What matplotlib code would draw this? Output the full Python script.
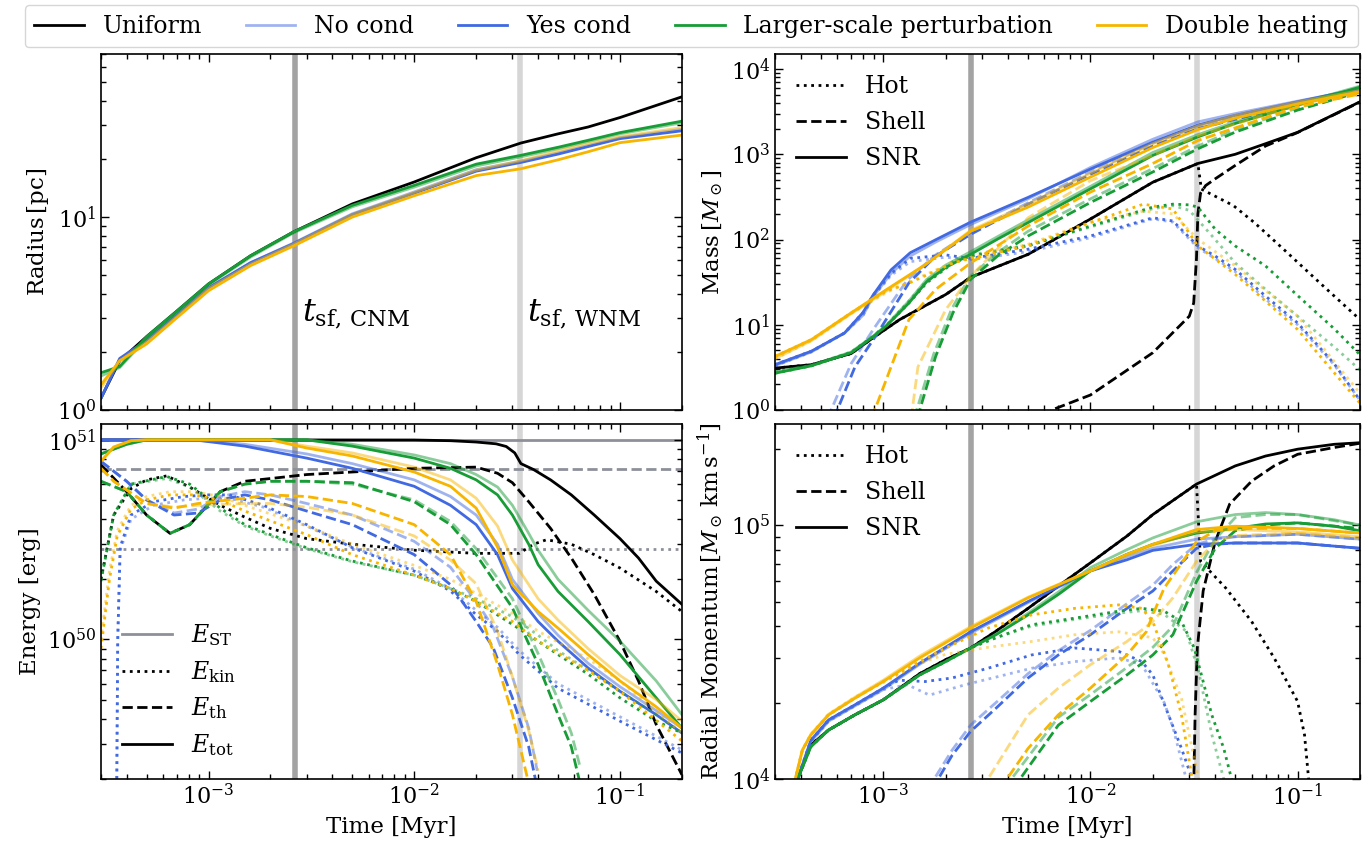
import numpy as np
import matplotlib
matplotlib.use('Agg')
import matplotlib.pyplot as plt
from matplotlib.lines import Line2D
from matplotlib.ticker import NullFormatter

plt.rcParams['font.family'] = 'DejaVu Serif'
plt.rcParams['mathtext.fontset'] = 'dejavuserif'
plt.rcParams['xtick.direction'] = 'in'
plt.rcParams['ytick.direction'] = 'in'
plt.rcParams['xtick.top'] = True
plt.rcParams['ytick.right'] = True
plt.rcParams['xtick.major.size'] = 6
plt.rcParams['ytick.major.size'] = 6
plt.rcParams['xtick.minor.size'] = 3.5
plt.rcParams['ytick.minor.size'] = 3.5
plt.rcParams['axes.linewidth'] = 1.2

# shell formation times [Myr]
t_sf_cnm = 2.64e-3
t_sf_wnm = 3.27e-2

# Sedov-Taylor energies [1e51 erg]
e_st_tot = 1.0
e_st_th = 0.717
e_st_kin = 0.283

model_labels = ['Uniform', 'No cond', 'Yes cond', 'Larger-scale perturbation', 'Double heating']

# ---------------- radius [pc]
t_rad = [3e-4, 3.7e-4, 5e-4, 7e-4, 1e-3, 1.6e-3, 2.6e-3, 5e-3, 1e-2, 2e-2, 3.3e-2, 5e-2, 7e-2, 0.1, 0.2]
rad_uni = [1.15, 1.8, 2.4, 3.25, 4.5, 6.3, 8.4, 11.7, 15.2, 20.3, 24.2, 27.0, 29.3, 32.8, 42.0]
rad_ncond = [1.15, 1.82, 2.3, 3.1, 4.3, 5.8, 7.35, 10.4, 13.5, 17.6, 19.5, 21.5, 23.5, 25.8, 28.5]
rad_ycond = [1.15, 1.85, 2.3, 3.1, 4.3, 5.8, 7.3, 10.3, 13.3, 17.3, 19.2, 21.2, 23.2, 25.5, 28.0]
rad_lsp_n = [1.5, 1.66, 2.35, 3.2, 4.45, 6.2, 8.3, 11.3, 14.3, 18.4, 20.5, 22.6, 24.6, 27.0, 30.8]
rad_lsp_y = [1.56, 1.68, 2.4, 3.25, 4.5, 6.3, 8.4, 11.5, 14.6, 18.8, 20.9, 23.0, 25.0, 27.4, 31.4]
rad_dh_n = [1.3, 1.8, 2.25, 3.05, 4.25, 5.7, 7.25, 10.3, 13.4, 17.5, 19.6, 22.0, 24.0, 26.1, 29.1]
rad_dh_y = [1.35, 1.8, 2.2, 3.0, 4.15, 5.6, 7.1, 10.0, 12.9, 16.4, 17.8, 19.8, 21.8, 24.3, 26.6]

# ---------------- mass [Msun]
t_msnr_uni = [3e-4, 4.5e-4, 7e-4, 8.9e-4, 1.2e-3, 2e-3, 2.64e-3, 5e-3, 1e-2, 2e-2, 3.3e-2, 5e-2, 7e-2, 0.1, 0.2]
msnr_uni = [3.1, 3.4, 4.6, 7.0, 11.5, 22.6, 36, 67, 174, 470, 780, 1000, 1330, 1810, 4130]
t_mhot_uni = [3e-4, 4.5e-4, 7e-4, 8.9e-4, 1.2e-3, 2e-3, 2.64e-3, 5e-3, 1e-2, 2e-2, 3.3e-2, 3.43e-2, 4.9e-2, 6.2e-2, 8.6e-2, 0.128, 0.2]
mhot_uni = [3.1, 3.4, 4.6, 7.0, 11.5, 22.6, 36, 67, 174, 470, 780, 390, 250, 157, 76, 31, 11.5]
t_msh_uni = [6e-3, 6.5e-3, 1e-2, 2e-2, 3e-2, 3.15e-2, 3.25e-2, 3.3e-2, 3.4e-2, 3.6e-2, 4e-2, 5e-2, 7e-2, 0.1, 0.2]
msh_uni = [0.8, 1.0, 1.5, 4.7, 12.6, 18, 60, 200, 350, 430, 515, 740, 1250, 1800, 4100]

t_msnr_cond = [3e-4, 4.5e-4, 6.5e-4, 8e-4, 8.9e-4, 1.09e-3, 1.35e-3, 1.8e-3, 2.64e-3, 5e-3, 1e-2, 2e-2, 3.3e-2, 5e-2, 0.1, 0.2]
msnr_ycond = [3.4, 4.9, 8, 14, 22, 44, 70, 100, 160, 312, 670, 1390, 2200, 2860, 4130, 5900]
msnr_ncond = [3.3, 4.8, 8, 13, 21, 40, 64, 94, 150, 300, 700, 1500, 2400, 3000, 4200, 5800]
t_mhot_cond = [3e-4, 4.5e-4, 6.5e-4, 8e-4, 8.9e-4, 1.09e-3, 1.35e-3, 2e-3, 2.64e-3, 5e-3, 1e-2, 2e-2, 2.5e-2, 3.3e-2, 4e-2, 5e-2, 7e-2, 0.1, 0.15, 0.2]
mhot_ycond = [3.4, 4.9, 8, 14, 22, 40, 60, 66, 60, 77, 110, 180, 165, 84, 64, 44.6, 21.7, 10.5, 3.5, 1.3]
mhot_ncond = [3.3, 4.8, 8, 13, 21, 38, 55, 62, 58, 72, 105, 175, 160, 80, 60, 42, 20, 10, 3.4, 1.3]
t_msh_ycond = [5.8e-4, 6e-4, 7.3e-4, 9.4e-4, 1.33e-3, 1.79e-3, 2.64e-3, 5e-3, 1e-2, 2e-2, 3.3e-2, 0.1, 0.2]
msh_ycond = [0.8, 1.0, 3.2, 8, 31, 64, 115, 260, 580, 1250, 2000, 3900, 5650]
t_msh_ncond = [5.4e-4, 5.6e-4, 7e-4, 9e-4, 1.3e-3, 1.79e-3, 2.64e-3, 5e-3, 1e-2, 2e-2, 3.3e-2, 0.1, 0.2]
msh_ncond = [0.8, 1.0, 3.5, 9, 33, 66, 120, 270, 620, 1350, 2100, 4000, 5700]

t_msnr_dh = [3e-4, 4.5e-4, 7e-4, 1.04e-3, 1.62e-3, 2.64e-3, 5e-3, 1e-2, 2e-2, 3.3e-2, 5e-2, 0.1, 0.2]
msnr_dh_y = [4.25, 6.7, 13.8, 26, 52, 125, 240, 540, 1200, 1950, 2650, 3900, 5400]
msnr_dh_n = [4.0, 6.5, 13.5, 25, 52, 128, 260, 600, 1330, 2150, 2850, 4100, 5600]
t_mhot_dh = [3e-4, 4.5e-4, 7e-4, 1.04e-3, 1.3e-3, 2.17e-3, 2.64e-3, 5e-3, 1e-2, 1.8e-2, 2.5e-2, 3.3e-2, 5e-2, 0.1, 0.2]
mhot_dh_y = [4.25, 6.7, 13.8, 25, 30, 53, 60, 84, 158, 260, 228, 84, 39, 8.8, 1.2]
mhot_dh_n = [4.0, 6.5, 13.5, 24, 31, 54, 61, 88, 160, 215, 200, 101, 49, 12.6, 1.57]
t_msh_dh_y = [8.8e-4, 9.1e-4, 1.09e-3, 1.33e-3, 1.79e-3, 2.64e-3, 5e-3, 1e-2, 2e-2, 3.3e-2, 0.1, 0.2]
msh_dh_y = [0.8, 1.0, 3.2, 11.5, 26, 53, 144, 360, 780, 1450, 3600, 5100]
t_msh_dh_n = [1.35e-3, 1.38e-3, 1.47e-3, 2e-3, 2.64e-3, 5e-3, 1e-2, 2e-2, 3.3e-2, 0.1, 0.2]
msh_dh_n = [0.8, 1.0, 3.2, 15, 37, 180, 490, 970, 1650, 3800, 5400]

t_msnr_lsp = [3e-4, 4.5e-4, 7e-4, 8.9e-4, 1.04e-3, 1.33e-3, 1.62e-3, 2e-3, 2.64e-3, 3.56e-3, 5e-3, 1e-2, 2e-2, 3.3e-2, 5e-2, 0.1, 0.2]
msnr_lsp_y = [2.7, 3.3, 4.7, 7.2, 9.8, 18, 32, 47, 67, 101, 158, 393, 970, 1600, 2300, 3760, 6130]
msnr_lsp_n = [2.8, 3.35, 4.8, 7.3, 10, 19, 34, 50, 72, 108, 170, 420, 1050, 1700, 2400, 3900, 6300]
t_mhot_lsp = [3e-4, 4.5e-4, 7e-4, 8.9e-4, 1.04e-3, 1.33e-3, 1.62e-3, 2.17e-3, 2.64e-3, 5e-3, 1e-2, 2e-2, 2.5e-2, 3e-2, 3.3e-2, 4e-2, 5e-2, 7e-2, 0.1, 0.15, 0.2]
mhot_lsp_y = [2.7, 3.3, 4.7, 7.2, 9.8, 18, 31, 53, 64, 84, 144, 240, 260, 255, 240, 132, 84, 49, 22, 9, 4.45]
mhot_lsp_n = [2.8, 3.35, 4.8, 7.3, 10, 19, 33, 55, 66, 86, 140, 230, 250, 220, 170, 100, 53, 26, 12.6, 5.5, 2.96]
t_msh_lsp_y = [1.47e-3, 1.5e-3, 1.79e-3, 2.17e-3, 2.64e-3, 3.56e-3, 5e-3, 1e-2, 2e-2, 3.3e-2, 5e-2, 0.1, 0.2]
msh_lsp_y = [0.8, 1.0, 4.25, 13.8, 34, 64, 110, 272, 620, 1160, 1820, 3300, 5400]
t_msh_lsp_n = [1.42e-3, 1.45e-3, 1.75e-3, 2.13e-3, 2.6e-3, 3.56e-3, 5e-3, 1e-2, 2e-2, 3.3e-2, 5e-2, 0.1, 0.2]
msh_lsp_n = [0.8, 1.0, 4.5, 15, 36, 70, 125, 300, 680, 1250, 1950, 3500, 5500]

# ---------------- energy [1e51 erg]
t_etot_uni = [3e-4, 1e-2, 1.5e-2, 2e-2, 2.5e-2, 2.8e-2, 3.08e-2, 3.3e-2, 3.8e-2, 4.6e-2, 5.8e-2, 7.5e-2, 0.1, 0.123, 0.15, 0.2]
etot_uni = [1.0, 0.998, 0.99, 0.975, 0.955, 0.926, 0.86, 0.76, 0.71, 0.63, 0.53, 0.42, 0.32, 0.256, 0.196, 0.15]
t_eth_uni = [3e-4, 4e-4, 5e-4, 6.5e-4, 8.1e-4, 1.14e-3, 1.5e-3, 2e-3, 3e-3, 5e-3, 1e-2, 2e-2, 2.54e-2, 3e-2, 3.6e-2, 4.6e-2, 5.8e-2, 7.5e-2, 0.1, 0.123, 0.15, 0.2]
eth_uni = [0.75, 0.55, 0.42, 0.34, 0.376, 0.55, 0.62, 0.64, 0.67, 0.69, 0.72, 0.73, 0.68, 0.61, 0.49, 0.36, 0.256, 0.168, 0.098, 0.062, 0.0375, 0.021]
t_ekin_uni = [3e-4, 3.46e-4, 4.2e-4, 5e-4, 6.27e-4, 8.1e-4, 1.14e-3, 1.5e-3, 2e-3, 3e-3, 5e-3, 1e-2, 2e-2, 3.24e-2, 3.8e-2, 4.4e-2, 5.8e-2, 7.5e-2, 0.1, 0.15, 0.2]
ekin_uni = [0.2, 0.42, 0.57, 0.63, 0.66, 0.58, 0.47, 0.41, 0.36, 0.32, 0.3, 0.28, 0.27, 0.27, 0.3, 0.316, 0.3, 0.266, 0.228, 0.174, 0.138]

t_etot_cond = [3e-4, 8.5e-4, 1.5e-3, 3e-3, 5e-3, 1e-2, 1.5e-2, 2e-2, 2.54e-2, 3e-2, 4e-2, 5e-2, 7e-2, 0.1, 0.15, 0.2]
etot_ycond = [1.0, 1.0, 0.93, 0.81, 0.72, 0.585, 0.47, 0.376, 0.266, 0.18, 0.123, 0.098, 0.072, 0.055, 0.042, 0.034]
etot_ncond = [1.0, 1.0, 0.95, 0.85, 0.76, 0.63, 0.52, 0.42, 0.3, 0.2, 0.135, 0.105, 0.076, 0.058, 0.044, 0.036]
t_eth_cond = [3e-4, 4e-4, 5e-4, 6.8e-4, 8.9e-4, 1.14e-3, 1.5e-3, 2e-3, 3e-3, 5e-3, 1e-2, 1.5e-2, 2e-2, 2.42e-2, 3e-2, 3.6e-2, 3.96e-2]
eth_ycond = [0.78, 0.62, 0.5, 0.42, 0.43, 0.5, 0.53, 0.5, 0.44, 0.376, 0.266, 0.188, 0.123, 0.091, 0.051, 0.029, 0.018]
eth_ncond = [0.78, 0.62, 0.5, 0.43, 0.45, 0.52, 0.55, 0.53, 0.48, 0.42, 0.31, 0.23, 0.155, 0.115, 0.065, 0.036, 0.022]
t_ekin_cond = [3.55e-4, 3.62e-4, 3.72e-4, 4.2e-4, 5.4e-4, 7.6e-4, 1e-3, 1.26e-3, 1.85e-3, 3e-3, 5e-3, 1e-2, 1.5e-2, 2e-2, 2.54e-2, 3.24e-2, 5e-2, 0.1, 0.2]
ekin_ycond = [0.005, 0.1, 0.29, 0.42, 0.49, 0.52, 0.53, 0.53, 0.47, 0.376, 0.288, 0.22, 0.175, 0.133, 0.11, 0.084, 0.057, 0.039, 0.027]
ekin_ncond = [0.005, 0.1, 0.28, 0.4, 0.47, 0.5, 0.51, 0.51, 0.46, 0.37, 0.29, 0.225, 0.18, 0.14, 0.115, 0.088, 0.06, 0.041, 0.028]

t_etot_lsp = [3e-4, 4e-4, 5e-4, 3e-3, 5e-3, 1e-2, 1.5e-2, 2e-2, 2.54e-2, 3e-2, 3.6e-2, 4e-2, 5e-2, 7e-2, 0.1, 0.15, 0.2]
etot_lsp_y = [0.85, 0.95, 1.0, 1.0, 0.93, 0.81, 0.72, 0.63, 0.53, 0.42, 0.3, 0.237, 0.174, 0.123, 0.084, 0.051, 0.036]
etot_lsp_n = [0.85, 0.95, 1.0, 1.0, 0.95, 0.84, 0.76, 0.67, 0.58, 0.47, 0.34, 0.28, 0.2, 0.14, 0.098, 0.062, 0.042]
t_eth_lsp = [3e-4, 4e-4, 5e-4, 6.5e-4, 8.1e-4, 1.14e-3, 1.5e-3, 2e-3, 3e-3, 5e-3, 1e-2, 1.5e-2, 2e-2, 3e-2, 4e-2, 5e-2, 5.8e-2, 6.4e-2]
eth_lsp_y = [0.62, 0.55, 0.42, 0.34, 0.376, 0.55, 0.6, 0.62, 0.62, 0.61, 0.49, 0.376, 0.266, 0.144, 0.075, 0.042, 0.029, 0.019]
eth_lsp_n = [0.62, 0.55, 0.42, 0.34, 0.376, 0.55, 0.6, 0.62, 0.62, 0.6, 0.5, 0.39, 0.285, 0.16, 0.085, 0.05, 0.034, 0.023]
t_ekin_lsp = [3e-4, 3.46e-4, 4.2e-4, 6.27e-4, 8.1e-4, 1.14e-3, 1.5e-3, 2e-3, 3e-3, 5e-3, 1e-2, 1.5e-2, 2e-2, 3e-2, 4e-2, 5e-2, 7e-2, 0.1, 0.15, 0.2]
ekin_lsp_y = [0.196, 0.42, 0.6, 0.655, 0.6, 0.455, 0.376, 0.335, 0.288, 0.247, 0.21, 0.18, 0.155, 0.119, 0.098, 0.084, 0.067, 0.051, 0.039, 0.034]
ekin_lsp_n = [0.2, 0.42, 0.6, 0.64, 0.58, 0.44, 0.37, 0.33, 0.285, 0.245, 0.21, 0.18, 0.16, 0.13, 0.105, 0.088, 0.07, 0.055, 0.042, 0.034]

t_etot_dh = [3e-4, 3.46e-4, 4.2e-4, 5e-4, 2e-3, 3e-3, 5e-3, 1e-2, 1.5e-2, 2e-2, 2.54e-2, 3e-2, 4e-2, 5e-2, 7e-2, 0.1, 0.15, 0.2]
etot_dh_y = [0.78, 0.92, 0.99, 1.0, 1.0, 0.91, 0.83, 0.69, 0.585, 0.455, 0.29, 0.188, 0.138, 0.114, 0.084, 0.062, 0.046, 0.036]
etot_dh_n = [0.78, 0.92, 0.99, 1.0, 1.0, 0.93, 0.86, 0.73, 0.63, 0.51, 0.37, 0.25, 0.16, 0.125, 0.09, 0.066, 0.05, 0.039]
t_eth_dh_y = [3e-4, 3.46e-4, 5e-4, 6.8e-4, 8.9e-4, 1.5e-3, 2e-3, 3e-3, 5e-3, 1e-2, 1.5e-2, 2e-2, 2.54e-2, 3e-2, 3.6e-2]
eth_dh_y = [0.72, 0.62, 0.48, 0.455, 0.48, 0.51, 0.53, 0.52, 0.48, 0.376, 0.266, 0.155, 0.075, 0.042, 0.019]
t_eth_dh_n = [3e-4, 3.46e-4, 5e-4, 6.8e-4, 8.9e-4, 1.5e-3, 2e-3, 3e-3, 5e-3, 1e-2, 1.5e-2, 2e-2, 2.54e-2, 3e-2, 3.6e-2, 4e-2]
eth_dh_n = [0.72, 0.62, 0.48, 0.46, 0.47, 0.48, 0.48, 0.46, 0.42, 0.33, 0.25, 0.19, 0.11, 0.065, 0.035, 0.022]
t_ekin_dh = [3e-4, 3.3e-4, 3.6e-4, 4.2e-4, 5e-4, 6.5e-4, 8.5e-4, 1.14e-3, 1.5e-3, 3e-3, 5e-3, 1e-2, 1.5e-2, 2e-2, 3e-2, 4e-2, 7e-2, 0.1, 0.2]
ekin_dh_y = [0.09, 0.2, 0.33, 0.45, 0.5, 0.53, 0.53, 0.5, 0.44, 0.335, 0.266, 0.21, 0.18, 0.155, 0.123, 0.098, 0.07, 0.055, 0.031]
ekin_dh_n = [0.1, 0.22, 0.35, 0.47, 0.52, 0.55, 0.55, 0.52, 0.47, 0.37, 0.3, 0.235, 0.2, 0.17, 0.135, 0.11, 0.08, 0.062, 0.034]

# ---------------- radial momentum [Msun km/s]
t_psnr_uni = [3.7e-4, 3.86e-4, 4.47e-4, 5.45e-4, 7.3e-4, 1e-3, 1.5e-3, 2e-3, 2.64e-3, 3.5e-3, 5e-3, 7e-3, 1e-2, 1.5e-2, 2e-2, 3.25e-2, 5e-2, 7e-2, 0.1, 0.15, 0.2]
psnr_uni = [0.8e4, 1.0e4, 1.36e4, 1.56e4, 1.79e4, 2.05e4, 2.6e4, 2.95e4, 3.28e4, 3.82e4, 4.7e4, 5.75e4, 7.1e4, 9.05e4, 1.1e5, 1.45e5, 1.71e5, 1.87e5, 1.99e5, 2.08e5, 2.11e5]
t_phot_uni = [3.7e-4, 3.86e-4, 4.47e-4, 5.45e-4, 7.3e-4, 1e-3, 1.5e-3, 2e-3, 2.64e-3, 3.5e-3, 5e-3, 7e-3, 1e-2, 1.5e-2, 2e-2, 3.25e-2, 3.4e-2, 4.5e-2, 6e-2, 7.7e-2, 0.1, 0.108, 0.113, 0.116]
phot_uni = [0.8e4, 1.0e4, 1.36e4, 1.56e4, 1.79e4, 2.05e4, 2.6e4, 2.95e4, 3.28e4, 3.82e4, 4.7e4, 5.75e4, 7.1e4, 9.05e4, 1.1e5, 1.45e5, 7.2e4, 5.65e4, 4.17e4, 3.0e4, 2.02e4, 1.49e4, 1.0e4, 0.8e4]
t_psh_uni = [3.14e-2, 3.2e-2, 3.28e-2, 3.5e-2, 4e-2, 4.7e-2, 6e-2, 7.7e-2, 0.1, 0.15, 0.2]
psh_uni = [0.8e4, 1.79e4, 3.28e4, 5.5e4, 8.6e4, 1.21e5, 1.49e5, 1.71e5, 1.9e5, 2.02e5, 2.1e5]

t_psnr_cond = [3.7e-4, 3.86e-4, 4.47e-4, 5.45e-4, 7.3e-4, 1e-3, 1.5e-3, 2.64e-3, 5e-3, 1e-2, 1.5e-2, 2e-2, 3.25e-2, 5e-2, 0.1, 0.2]
psnr_ycond = [0.8e4, 1.0e4, 1.42e4, 1.71e4, 1.96e4, 2.28e4, 2.86e4, 3.8e4, 5.0e4, 6.6e4, 7.3e4, 7.95e4, 8.4e4, 8.5e4, 8.5e4, 8.1e4]
psnr_ncond = [0.8e4, 1.0e4, 1.4e4, 1.69e4, 1.94e4, 2.25e4, 2.83e4, 3.75e4, 4.95e4, 6.6e4, 7.5e4, 8.1e4, 8.8e4, 9.0e4, 9.2e4, 8.8e4]
t_phot_ycond = [3.7e-4, 3.86e-4, 4.47e-4, 5.45e-4, 7.3e-4, 1e-3, 1.19e-3, 1.59e-3, 2.15e-3, 3.2e-3, 5.2e-3, 8.4e-3, 1.37e-2, 1.77e-2, 2e-2, 2.38e-2, 2.75e-2, 3.1e-2, 3.2e-2]
phot_ycond = [0.8e4, 1.0e4, 1.42e4, 1.71e4, 1.96e4, 2.28e4, 2.45e4, 2.42e4, 2.5e4, 2.73e4, 3.08e4, 3.28e4, 3.18e4, 2.9e4, 2.57e4, 1.79e4, 1.32e4, 1.0e4, 0.8e4]
t_phot_ncond = [3.7e-4, 3.86e-4, 4.47e-4, 5.45e-4, 7.3e-4, 1e-3, 1.31e-3, 1.67e-3, 2.48e-3, 5.2e-3, 8.4e-3, 1.37e-2, 1.77e-2, 2.27e-2, 2.5e-2, 2.9e-2, 3e-2]
phot_ncond = [0.8e4, 1.0e4, 1.4e4, 1.69e4, 1.94e4, 2.25e4, 2.35e4, 2.14e4, 2.35e4, 2.73e4, 2.9e4, 3.0e4, 2.82e4, 2.0e4, 1.6e4, 1.0e4, 0.8e4]
t_psh_ycond = [1.8e-3, 1.84e-3, 2.15e-3, 2.64e-3, 3.5e-3, 5e-3, 7e-3, 1e-2, 1.5e-2, 2e-2, 2.5e-2, 3.25e-2, 4e-2, 5e-2, 0.1, 0.2]
psh_ycond = [0.9e4, 1.0e4, 1.24e4, 1.54e4, 1.9e4, 2.5e4, 3.08e4, 3.7e4, 4.7e4, 5.5e4, 6.6e4, 8.1e4, 8.4e4, 8.5e4, 8.5e4, 8.1e4]
t_psh_ncond = [1.72e-3, 1.76e-3, 2.15e-3, 2.64e-3, 3.5e-3, 5e-3, 7e-3, 1e-2, 1.5e-2, 2e-2, 2.5e-2, 3.25e-2, 4e-2, 5e-2, 0.1, 0.2]
psh_ncond = [0.9e4, 1.0e4, 1.3e4, 1.63e4, 2.0e4, 2.6e4, 3.2e4, 3.85e4, 4.9e4, 5.8e4, 7.0e4, 8.4e4, 8.8e4, 9.0e4, 9.2e4, 8.8e4]

t_psnr_lsp = [3.7e-4, 3.86e-4, 4.47e-4, 5.45e-4, 7.3e-4, 1e-3, 1.5e-3, 2e-3, 2.64e-3, 3.5e-3, 5e-3, 7e-3, 1e-2, 1.5e-2, 2e-2, 3.25e-2, 5e-2, 7e-2, 0.1, 0.15, 0.2]
psnr_lsp_y = [0.8e4, 1.0e4, 1.34e4, 1.56e4, 1.79e4, 2.05e4, 2.57e4, 2.9e4, 3.28e4, 3.7e4, 4.43e4, 5.33e4, 6.6e4, 7.67e4, 8.4e4, 9.3e4, 9.7e4, 1.01e5, 1.02e5, 9.9e4, 9.5e4]
psnr_lsp_n = [0.8e4, 1.0e4, 1.34e4, 1.56e4, 1.79e4, 2.05e4, 2.57e4, 2.9e4, 3.28e4, 3.72e4, 4.5e4, 5.45e4, 6.8e4, 8.0e4, 8.9e4, 1.03e5, 1.1e5, 1.12e5, 1.1e5, 1.05e5, 1.0e5]
t_phot_lsp_y = [3.7e-4, 3.86e-4, 4.47e-4, 5.45e-4, 7.3e-4, 1e-3, 1.5e-3, 2e-3, 2.64e-3, 3.5e-3, 5.2e-3, 8.4e-3, 1.37e-2, 1.77e-2, 2.27e-2, 2.75e-2, 3.17e-2, 3.5e-2, 3.85e-2, 4.4e-2, 4.8e-2, 5e-2]
phot_lsp_y = [0.8e4, 1.0e4, 1.34e4, 1.56e4, 1.79e4, 2.05e4, 2.57e4, 2.9e4, 3.28e4, 3.6e4, 4.05e4, 4.3e4, 4.58e4, 4.7e4, 4.58e4, 4.17e4, 3.28e4, 2.42e4, 1.79e4, 1.32e4, 1.0e4, 0.8e4]
t_phot_lsp_n = [3.7e-4, 3.86e-4, 4.47e-4, 5.45e-4, 7.3e-4, 1e-3, 1.5e-3, 2e-3, 2.64e-3, 3.5e-3, 5.2e-3, 8.4e-3, 1.37e-2, 1.77e-2, 2.27e-2, 2.9e-2, 3.33e-2, 3.85e-2, 4.4e-2, 4.6e-2]
phot_lsp_n = [0.8e4, 1.0e4, 1.34e4, 1.56e4, 1.79e4, 2.05e4, 2.57e4, 2.9e4, 3.28e4, 3.6e4, 4.0e4, 4.25e4, 4.5e4, 4.6e4, 4.45e4, 3.82e4, 2.65e4, 1.5e4, 1.0e4, 0.8e4]
t_psh_lsp_y = [4.45e-3, 4.57e-3, 7e-3, 1e-2, 1.5e-2, 2e-2, 2.5e-2, 3.25e-2, 4e-2, 5e-2, 7e-2, 0.1, 0.2]
psh_lsp_y = [0.9e4, 1.0e4, 1.63e4, 2.02e4, 2.57e4, 3.08e4, 3.7e4, 6.0e4, 8.1e4, 9.5e4, 1.0e5, 1.02e5, 9.7e4]
t_psh_lsp_n = [4.05e-3, 4.15e-3, 7e-3, 1e-2, 1.5e-2, 2e-2, 2.5e-2, 3.25e-2, 4e-2, 5e-2, 7e-2, 0.1, 0.2]
psh_lsp_n = [0.9e4, 1.0e4, 1.75e4, 2.15e4, 2.75e4, 3.3e4, 4.0e4, 6.5e4, 8.8e4, 1.07e5, 1.1e5, 1.1e5, 1.0e5]

t_psnr_dh = [3.6e-4, 3.76e-4, 4.07e-4, 4.47e-4, 5.45e-4, 7.3e-4, 1e-3, 1.5e-3, 2.64e-3, 5e-3, 1e-2, 1.5e-2, 2e-2, 3.25e-2, 5e-2, 0.1, 0.2]
psnr_dh_y = [0.8e4, 1.0e4, 1.3e4, 1.49e4, 1.79e4, 2.08e4, 2.42e4, 3.0e4, 3.93e4, 5.17e4, 6.6e4, 7.67e4, 8.4e4, 9.6e4, 9.9e4, 9.7e4, 9.3e4]
psnr_dh_n = [0.8e4, 1.0e4, 1.3e4, 1.5e4, 1.8e4, 2.1e4, 2.45e4, 3.05e4, 3.98e4, 5.2e4, 6.6e4, 7.6e4, 8.3e4, 9.4e4, 9.6e4, 9.4e4, 9.0e4]
t_phot_dh_y = [3.6e-4, 3.76e-4, 4.07e-4, 4.47e-4, 5.45e-4, 7.3e-4, 1e-3, 1.5e-3, 2e-3, 3.2e-3, 5.2e-3, 8.4e-3, 1.37e-2, 1.77e-2, 2e-2, 2.38e-2, 2.75e-2, 3.1e-2, 3.2e-2]
phot_dh_y = [0.8e4, 1.0e4, 1.3e4, 1.49e4, 1.79e4, 2.08e4, 2.42e4, 2.9e4, 3.28e4, 3.93e4, 4.43e4, 4.7e4, 4.85e4, 4.7e4, 4.17e4, 2.82e4, 1.79e4, 1.0e4, 0.8e4]
t_phot_dh_n = [3.6e-4, 3.76e-4, 4.07e-4, 4.47e-4, 5.45e-4, 7.3e-4, 1e-3, 1.5e-3, 2e-3, 3.2e-3, 5.2e-3, 8.4e-3, 1.37e-2, 2e-2, 2.27e-2, 2.75e-2, 3.33e-2, 3.4e-2]
phot_dh_n = [0.8e4, 1.0e4, 1.3e4, 1.5e4, 1.8e4, 2.1e4, 2.4e4, 2.85e4, 3.1e4, 3.3e4, 3.48e4, 3.7e4, 3.8e4, 3.6e4, 3.1e4, 2.08e4, 1.0e4, 0.8e4]
t_psh_dh_y = [3.85e-3, 3.95e-3, 5e-3, 7e-3, 1e-2, 1.5e-2, 1.86e-2, 2e-2, 2.27e-2, 3.25e-2, 4e-2, 5e-2, 0.1, 0.2]
psh_dh_y = [0.9e4, 1.0e4, 1.32e4, 1.79e4, 2.28e4, 3.08e4, 3.8e4, 4.43e4, 5.65e4, 8.6e4, 9.5e4, 9.7e4, 9.7e4, 9.3e4]
t_psh_dh_n = [3.1e-3, 3.2e-3, 5e-3, 7e-3, 1e-2, 1.5e-2, 2e-2, 2.5e-2, 3.25e-2, 4e-2, 5e-2, 0.1, 0.2]
psh_dh_n = [0.9e4, 1.0e4, 1.79e4, 2.28e4, 2.82e4, 3.48e4, 4.17e4, 5.17e4, 7.2e4, 8.6e4, 9.1e4, 9.3e4, 8.9e4]

# ---------------- styles
c_blue = '#4169e1'
c_green = '#179c36'
c_yellow = '#f7b500'
c_gray = '#8d9099'
models = [('uni', 'k', 1.0), ('ncond', c_blue, 0.5), ('ycond', c_blue, 1.0),
          ('lsp_n', c_green, 0.5), ('lsp_y', c_green, 1.0),
          ('dh_n', c_yellow, 0.5), ('dh_y', c_yellow, 1.0)]

radius = {'uni': rad_uni, 'ncond': rad_ncond, 'ycond': rad_ycond, 'lsp_n': rad_lsp_n,
          'lsp_y': rad_lsp_y, 'dh_n': rad_dh_n, 'dh_y': rad_dh_y}

mass = {
    'uni': [(t_mhot_uni, mhot_uni), (t_msh_uni, msh_uni), (t_msnr_uni, msnr_uni)],
    'ncond': [(t_mhot_cond, mhot_ncond), (t_msh_ncond, msh_ncond), (t_msnr_cond, msnr_ncond)],
    'ycond': [(t_mhot_cond, mhot_ycond), (t_msh_ycond, msh_ycond), (t_msnr_cond, msnr_ycond)],
    'lsp_n': [(t_mhot_lsp, mhot_lsp_n), (t_msh_lsp_n, msh_lsp_n), (t_msnr_lsp, msnr_lsp_n)],
    'lsp_y': [(t_mhot_lsp, mhot_lsp_y), (t_msh_lsp_y, msh_lsp_y), (t_msnr_lsp, msnr_lsp_y)],
    'dh_n': [(t_mhot_dh, mhot_dh_n), (t_msh_dh_n, msh_dh_n), (t_msnr_dh, msnr_dh_n)],
    'dh_y': [(t_mhot_dh, mhot_dh_y), (t_msh_dh_y, msh_dh_y), (t_msnr_dh, msnr_dh_y)],
}
energy = {
    'uni': [(t_ekin_uni, ekin_uni), (t_eth_uni, eth_uni), (t_etot_uni, etot_uni)],
    'ncond': [(t_ekin_cond, ekin_ncond), (t_eth_cond, eth_ncond), (t_etot_cond, etot_ncond)],
    'ycond': [(t_ekin_cond, ekin_ycond), (t_eth_cond, eth_ycond), (t_etot_cond, etot_ycond)],
    'lsp_n': [(t_ekin_lsp, ekin_lsp_n), (t_eth_lsp, eth_lsp_n), (t_etot_lsp, etot_lsp_n)],
    'lsp_y': [(t_ekin_lsp, ekin_lsp_y), (t_eth_lsp, eth_lsp_y), (t_etot_lsp, etot_lsp_y)],
    'dh_n': [(t_ekin_dh, ekin_dh_n), (t_eth_dh_n, eth_dh_n), (t_etot_dh, etot_dh_n)],
    'dh_y': [(t_ekin_dh, ekin_dh_y), (t_eth_dh_y, eth_dh_y), (t_etot_dh, etot_dh_y)],
}
momentum = {
    'uni': [(t_phot_uni, phot_uni), (t_psh_uni, psh_uni), (t_psnr_uni, psnr_uni)],
    'ncond': [(t_phot_ncond, phot_ncond), (t_psh_ncond, psh_ncond), (t_psnr_cond, psnr_ncond)],
    'ycond': [(t_phot_ycond, phot_ycond), (t_psh_ycond, psh_ycond), (t_psnr_cond, psnr_ycond)],
    'lsp_n': [(t_phot_lsp_n, phot_lsp_n), (t_psh_lsp_n, psh_lsp_n), (t_psnr_lsp, psnr_lsp_n)],
    'lsp_y': [(t_phot_lsp_y, phot_lsp_y), (t_psh_lsp_y, psh_lsp_y), (t_psnr_lsp, psnr_lsp_y)],
    'dh_n': [(t_phot_dh_n, phot_dh_n), (t_psh_dh_n, psh_dh_n), (t_psnr_dh, psnr_dh_n)],
    'dh_y': [(t_phot_dh_y, phot_dh_y), (t_psh_dh_y, psh_dh_y), (t_psnr_dh, psnr_dh_y)],
}
styles = [':', '--', '-']
lw = 2.0
fs_tick = 16
fs_label = 16.5
fs_leg = 17

fig = plt.figure(figsize=(13.66, 8.44), dpi=100)
ax_r = fig.add_axes([0.0739, 0.5142, 0.4253, 0.4218])
ax_m = fig.add_axes([0.5673, 0.5142, 0.4283, 0.4218], sharex=ax_r)
ax_e = fig.add_axes([0.0739, 0.0770, 0.4253, 0.4206], sharex=ax_r)
ax_p = fig.add_axes([0.5673, 0.0770, 0.4283, 0.4206], sharex=ax_r)

for key, col, a in models:
    ax_r.plot(t_rad, radius[key], color=col, alpha=a, lw=lw)
    for (tt, yy), ls in zip(mass[key], styles):
        ax_m.plot(tt, yy, color=col, alpha=a, lw=lw, ls=ls)
    for (tt, yy), ls in zip(energy[key], styles):
        ax_e.plot(tt, np.array(yy) * 1e51, color=col, alpha=a, lw=lw, ls=ls)
    for (tt, yy), ls in zip(momentum[key], styles):
        ax_p.plot(tt, yy, color=col, alpha=a, lw=lw, ls=ls)

ax_e.axhline(e_st_tot * 1e51, color=c_gray, lw=2, ls='-', zorder=1)
ax_e.axhline(e_st_th * 1e51, color=c_gray, lw=2, ls='--', zorder=1)
ax_e.axhline(e_st_kin * 1e51, color=c_gray, lw=2, ls=':', zorder=1)

for ax in [ax_r, ax_m, ax_e, ax_p]:
    ax.set_xscale('log')
    ax.set_yscale('log')
    ax.axvline(t_sf_cnm, color='#a3a3a3', lw=4, zorder=0)
    ax.axvline(t_sf_wnm, color='#d6d6d6', lw=4, zorder=0)
    ax.tick_params(which='both', labelsize=fs_tick, width=1)
    ax.yaxis.set_minor_formatter(NullFormatter())

ax_r.set_xlim(3e-4, 0.2)
ax_r.set_ylim(1, 70)
ax_m.set_ylim(1, 1.5e4)
ax_e.set_ylim(2e49, 1.2e51)
ax_p.set_ylim(1e4, 2.5e5)

ax_r.tick_params(labelbottom=False)
ax_m.tick_params(labelbottom=False)

ax_r.set_ylabel('Radius$\\,$[pc]', fontsize=fs_label)
ax_m.set_ylabel('Mass$\\,[M_\\odot]$', fontsize=fs_label)
ax_e.set_ylabel('Energy [erg]', fontsize=fs_label)
ax_p.set_ylabel('Radial Momentum$\\,[M_\\odot\\,{\\rm km\\,s^{-1}}]$', fontsize=fs_label)
ax_e.set_xlabel('Time [Myr]', fontsize=fs_label)
ax_p.set_xlabel('Time [Myr]', fontsize=fs_label)

ax_r.text(2.85e-3, 3.15, r'$t_{\rm sf,\,CNM}$', fontsize=23, va='center', ha='left')
ax_r.text(3.55e-2, 3.15, r'$t_{\rm sf,\,WNM}$', fontsize=23, va='center', ha='left')

phase_handles = [Line2D([], [], color='k', lw=lw, ls=ls) for ls in styles]
for ax in [ax_m, ax_p]:
    ax.legend(phase_handles, ['Hot', 'Shell', 'SNR'], loc='upper left', frameon=False,
              fontsize=fs_leg, handlelength=2.1, labelspacing=0.55)

e_handles = [Line2D([], [], color=c_gray, lw=lw)] + [Line2D([], [], color='k', lw=lw, ls=ls) for ls in styles]
ax_e.legend(e_handles, [r'$E_{\rm ST}$', r'$E_{\rm kin}$', r'$E_{\rm th}$', r'$E_{\rm tot}$'],
            loc='lower left', frameon=False, fontsize=fs_leg, handlelength=2.1, labelspacing=0.45)

model_handles = [Line2D([], [], color='k', lw=lw),
                 Line2D([], [], color=c_blue, alpha=0.5, lw=lw),
                 Line2D([], [], color=c_blue, lw=lw),
                 Line2D([], [], color=c_green, lw=lw),
                 Line2D([], [], color=c_yellow, lw=lw)]
fig.legend(model_handles, model_labels, loc='lower left', ncol=5, mode='expand',
           bbox_to_anchor=(0.018, 0.944, 0.976, 0.05), borderaxespad=0, fontsize=fs_leg,
           handlelength=2.1, edgecolor='#cccccc', fancybox=True)

plt.savefig('out.png', dpi=100)
